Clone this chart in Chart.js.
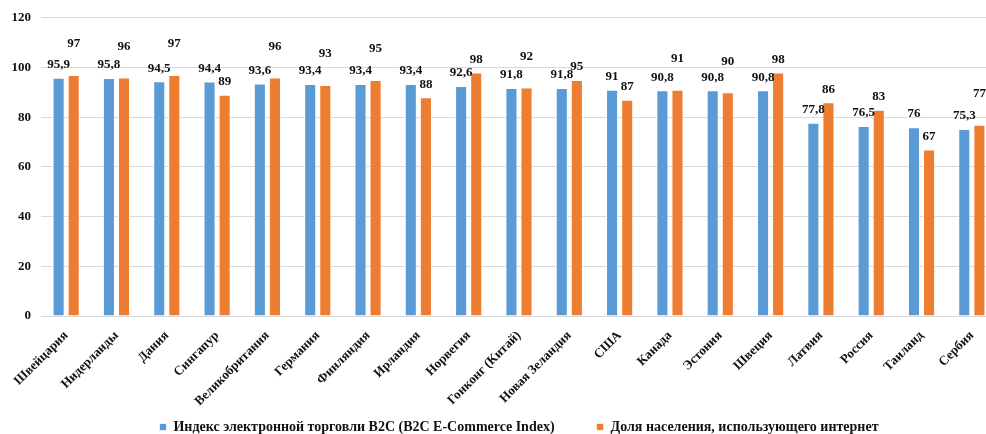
<!DOCTYPE html>
<html lang="ru">
<head>
<meta charset="utf-8">
<title>B2C E-Commerce Index</title>
<script src="https://cdn.jsdelivr.net/npm/chart.js@4/dist/chart.umd.min.js"></script>
<style>
  html, body { margin: 0; padding: 0; background: #fff; overflow: hidden; }
  body { width: 986px; height: 434px; }
  /* the original picture is cropped on the right, so the canvas is a bit wider than the window */
  .wrap { position: relative; width: 1000px; height: 434px; }
</style>
</head>
<body>
<div class="wrap"><canvas id="chart"></canvas></div>
<script>
// Data
const countries = [
  'Швейцария', 'Нидерланды', 'Дания', 'Сингапур', 'Великобритания', 'Германия',
  'Финляндия', 'Ирландия', 'Норвегия', 'Гонконг (Китай)', 'Новая Зеландия', 'США',
  'Канада', 'Эстония', 'Швеция', 'Латвия', 'Россия', 'Таиланд', 'Сербия'
];
const ecomIndex = [95.9, 95.8, 94.5, 94.4, 93.6, 93.4, 93.4, 93.4, 92.6, 91.8, 91.8, 91, 90.8, 90.8, 90.8, 77.8, 76.5, 76, 75.3];
const internetShare = [97, 96, 97, 89, 96, 93, 95, 88, 98, 92, 95, 87, 91, 90, 98, 86, 83, 67, 77];
const yTicks = [0, 20, 40, 60, 80, 100, 120];

const seriesNames = [
  'Индекс электронной торговли B2C (B2C E-Commerce Index)',
  'Доля населения, использующего интернет'
];

const FONT = "'Liberation Serif', 'Times New Roman', serif";
const BLUE = '#5B9BD5';
const ORANGE = '#ED7D31';

// Value labels above the bars. Orange labels are pushed up when they would
// collide with the blue one (same as the manual placement in the original).
const barLabels = {
  id: 'barLabels',
  afterDatasetsDraw(chart) {
    const ctx = chart.ctx;
    ctx.save();
    ctx.font = 'bold 13px ' + FONT;
    ctx.fillStyle = '#111';
    ctx.textAlign = 'center';
    ctx.textBaseline = 'middle';
    chart.data.datasets.forEach((ds, di) => {
      const meta = chart.getDatasetMeta(di);
      meta.data.forEach((bar, i) => {
        const v = ds.data[i];
        let lift = 13;
        if (di === 1 && Math.abs(v - ecomIndex[i]) < 3) lift = 31;
        ctx.fillText(String(v).replace('.', ','), bar.x, bar.y - lift);
      });
    });
    ctx.restore();
  }
};

new Chart(document.getElementById('chart'), {
  type: 'bar',
  data: {
    labels: countries,
    datasets: [
      {
        label: seriesNames[0],
        data: ecomIndex,
        backgroundColor: BLUE,
        borderColor: 'rgba(255,255,255,0.7)',
        borderWidth: 1,
        categoryPercentage: 0.6,
        barPercentage: 0.8
      },
      {
        label: seriesNames[1],
        data: internetShare,
        backgroundColor: ORANGE,
        borderColor: 'rgba(255,255,255,0.7)',
        borderWidth: 1,
        categoryPercentage: 0.6,
        barPercentage: 0.8
      }
    ]
  },
  options: {
    responsive: true,
    maintainAspectRatio: false,
    animation: false,
    layout: { padding: { top: 11, right: 3, left: 0, bottom: -10 } },
    plugins: {
      legend: {
        position: 'bottom',
        fullSize: false,
        labels: {
          boxWidth: 7,
          boxHeight: 7,
          padding: 42,
          color: '#111',
          font: { family: FONT, size: 14, weight: 'bold' }
        }
      },
      tooltip: { enabled: false }
    },
    scales: {
      x: {
        grid: { display: false },
        border: { display: false },
        ticks: {
          color: '#111',
          minRotation: 45,
          maxRotation: 45,
          padding: 4,
          autoSkip: false,
          font: { family: FONT, size: 13, weight: 'bold' }
        },
        afterFit(scale) {
          scale.height = 62;
          // long rotated names run down past the axis box, as in the original
          scale._computeLabelArea = () => null;
        }
      },
      y: {
        min: yTicks[0],
        max: yTicks[yTicks.length - 1],
        grid: { color: '#d9d9d9', lineWidth: 1, drawTicks: false },
        border: { display: false },
        afterBuildTicks(scale) { scale.ticks = yTicks.map(v => ({ value: v })); },
        ticks: {
          color: '#111',
          padding: 10,
          font: { family: FONT, size: 13, weight: 'bold' }
        },
        afterFit(scale) { scale.width = 41; }
      }
    }
  },
  plugins: [barLabels]
});
</script>
</body>
</html>
